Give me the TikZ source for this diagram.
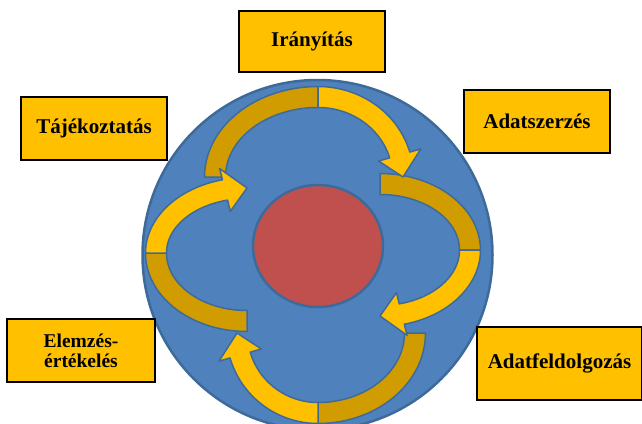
\documentclass[tikz,border=0pt]{standalone}
\usepackage{fontspec}
\setmainfont{Liberation Serif}
\definecolor{cblue}{RGB}{79,129,189}
\definecolor{cedge}{RGB}{62,106,154}
\definecolor{cred}{RGB}{192,80,77}
\definecolor{cgold}{RGB}{255,192,0}
\definecolor{cdark}{RGB}{208,156,0}
\tikzset{
  box/.style={draw=black, line width=2.5pt, fill=cgold, font=\fontsize{21}{22}\selectfont\bfseries, align=center, inner sep=0pt},
  tailpart/.style={fill=cdark, draw=cedge, line width=1.5pt, line join=round},
  headpart/.style={fill=cgold, draw=cedge, line width=1.5pt, line join=round},
  disc/.style={draw=cedge, line width=2.5pt},
}
\def\rh{10.5}
\def\rw{22}
% #1 cx, #2 cy, #3 a, #4 b, #5 start angle, #6 end angle
\newcommand\ribbontail[6]{%
  \filldraw[tailpart] plot[domain=#5:#6, samples=40] ({#1+(#3+\rh)*cos(\x)},{#2+(#4+\rh)*sin(\x)})
    -- plot[domain=#6:#5, samples=40] ({#1+(#3-\rh)*cos(\x)},{#2+(#4-\rh)*sin(\x)}) -- cycle;}
% #1 cx, #2 cy, #3 a, #4 b, #5 start, #6 shaft end, #7 tip angle
\newcommand\ribbonhead[7]{%
  \filldraw[headpart] plot[domain=#5:#6, samples=40] ({#1+(#3+\rh)*cos(\x)},{#2+(#4+\rh)*sin(\x)})
    -- ({#1+(#3+\rw)*cos(#6)},{#2+(#4+\rw)*sin(#6)})
    -- ({#1+#3*cos(#7)},{#2+#4*sin(#7)})
    -- ({#1+(#3-\rw)*cos(#6)},{#2+(#4-\rw)*sin(#6)})
    -- plot[domain=#6:#5, samples=40] ({#1+(#3-\rh)*cos(\x)},{#2+(#4-\rh)*sin(\x)}) -- cycle;}
\begin{document}
\begin{tikzpicture}[x=1pt,y=-1pt]
\useasboundingbox (0,0) rectangle (642,423);
\fill[white] (0,0) rectangle (642,423);
% big blue disc
\filldraw[disc, fill=cblue] (317.5,255) circle[radius=175];
% red centre
\filldraw[disc, fill=cred] (318,246) ellipse[x radius=65, y radius=61];
% tails (darker halves)
\ribbontail{318}{177}{103}{80}{180}{270}
\ribbontail{380}{250}{90}{66}{270}{360}
\ribbontail{318}{333}{97}{80}{0}{90}
\ribbontail{247}{253}{91}{68}{90}{180}
% heads (bright halves with arrowheads)
\ribbonhead{318}{177}{85}{80}{270}{344}{360}
\ribbonhead{380}{250}{90}{66}{0}{76}{90}
\ribbonhead{318}{333}{81}{80}{90}{164}{180}
\ribbonhead{247}{253}{91}{65}{180}{256}{270}
% labels
\node[box, minimum width=146pt, minimum height=61pt] (iranyitas) at (312,41.5) {Irányítás};
\node[box, minimum width=146pt, minimum height=63pt] (tajekoztatas) at (94,128.5) {Tájékoztatás};
\node[box, minimum width=146pt, minimum height=63pt] (adatszerzes) at (537,121.5) {Adatszerzés};
\node[box, minimum width=148pt, minimum height=63pt, font=\fontsize{19.5}{20}\selectfont\bfseries] (elemzes) at (81,350.5) {Elemzés-\\értékelés};
\node[box, minimum width=165pt, minimum height=73pt] (adatfeld) at (559.5,363.5) {Adatfeldolgozás};
\end{tikzpicture}
\end{document}
